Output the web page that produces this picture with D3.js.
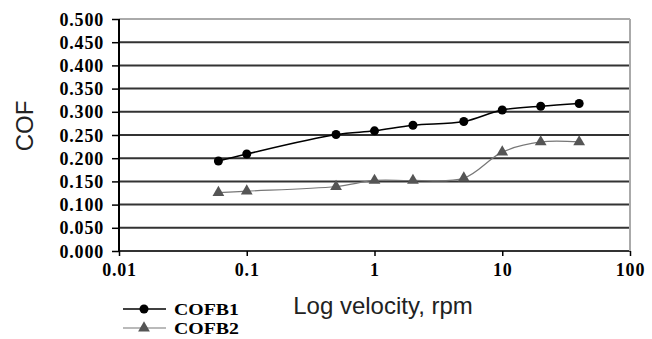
<!DOCTYPE html>
<html>
<head>
<meta charset="utf-8">
<script src="https://cdn.jsdelivr.net/npm/d3@7"></script>
<style>
  body { margin: 0; background: #fff; }
  svg { display: block; }
  .tick-lbl { font-family: "Liberation Serif", "Times New Roman", serif; font-weight: bold; font-size: 18px; letter-spacing: 0.8px; fill: #000; }
  .leg-lbl { font-family: "Liberation Serif", "Times New Roman", serif; font-weight: bold; font-size: 17.5px; fill: #000; }
  .title { font-family: "Liberation Sans", Arial, sans-serif; font-size: 24px; fill: #222; }
</style>
</head>
<body>
<svg id="chart" width="652" height="339"></svg>
<script>
// velocities (rpm)
const velocity = [0.06, 0.1, 0.5, 1, 2, 5, 10, 20, 40];
const cofb1 = [0.194, 0.209, 0.251, 0.259, 0.271, 0.279, 0.304, 0.312, 0.318];
const cofb2 = [0.126, 0.129, 0.139, 0.152, 0.152, 0.157, 0.213, 0.235, 0.235];
const yTicks = [0, 0.05, 0.1, 0.15, 0.2, 0.25, 0.3, 0.35, 0.4, 0.45, 0.5];
const xTicks = [0.01, 0.1, 1, 10, 100];
const seriesNames = ["COFB1", "COFB2"];

const svg = d3.select('#chart');
const x = d3.scaleLog().domain([0.01, 100]).range([119, 630]);
const y = d3.scaleLinear().domain([0, 0.5]).range([251, 19]);

// horizontal gridlines
svg.append('g')
  .selectAll('line')
  .data(yTicks)
  .join('line')
    .attr('x1', x(0.01)).attr('x2', x(100))
    .attr('y1', d => y(d)).attr('y2', d => y(d))
    .attr('stroke', d => d === 0.5 ? '#aaa' : '#333')
    .attr('stroke-width', 2);

// right border
svg.append('line')
  .attr('x1', x(100)).attr('x2', x(100))
  .attr('y1', y(0.5)).attr('y2', y(0))
  .attr('stroke', '#aaa').attr('stroke-width', 2);

// y axis
const yAxis = svg.append('g')
  .attr('transform', `translate(${x(0.01)},0)`)
  .call(d3.axisLeft(y).tickValues(yTicks).tickSize(7).tickFormat(d3.format('.3f')));
yAxis.select('.domain').attr('stroke', '#000').attr('stroke-width', 2).attr('d', `M0,${y(0.5)}V${y(0)}`);
yAxis.selectAll('.tick line').attr('stroke', '#000').attr('stroke-width', 1.5);
yAxis.selectAll('.tick text').attr('class', 'tick-lbl').attr('x', -15).attr('dy', '0.34em');

// x axis
const xAxis = svg.append('g')
  .attr('transform', `translate(0,${y(0)})`)
  .call(d3.axisBottom(x).tickValues(xTicks).tickSize(5).tickFormat(d => d < 1 ? String(d) : d3.format('d')(d)));
xAxis.select('.domain').remove();
xAxis.selectAll('.tick line').attr('stroke', '#000').attr('stroke-width', 1.5);
xAxis.selectAll('.tick text').attr('class', 'tick-lbl').attr('y', 25).attr('dy', 0);

// axis titles
svg.append('text').attr('class', 'title')
  .attr('transform', 'translate(33,126) rotate(-90)')
  .attr('text-anchor', 'middle')
  .text('COF');
svg.append('text').attr('class', 'title')
  .attr('x', 383).attr('y', 314)
  .attr('text-anchor', 'middle')
  .text('Log velocity, rpm');

const line = d3.line()
  .x(d => x(d[0]))
  .y(d => y(d[1]))
  .curve(d3.curveCatmullRom.alpha(0.5));

const s1 = velocity.map((v, i) => [v, cofb1[i]]);
const s2 = velocity.map((v, i) => [v, cofb2[i]]);

svg.append('path').datum(s2)
  .attr('d', line).attr('fill', 'none')
  .attr('stroke', '#777').attr('stroke-width', 1.2);
svg.append('path').datum(s1)
  .attr('d', line).attr('fill', 'none')
  .attr('stroke', '#000').attr('stroke-width', 1.5);

const tri = d3.symbol().type(d3.symbolTriangle).size(60);
svg.append('g').selectAll('path')
  .data(s2).join('path')
    .attr('d', tri)
    .attr('transform', d => `translate(${x(d[0])},${y(d[1])})`)
    .attr('fill', '#555');
svg.append('g').selectAll('circle')
  .data(s1).join('circle')
    .attr('cx', d => x(d[0])).attr('cy', d => y(d[1]))
    .attr('r', 4.5).attr('fill', '#000');

// legend
const leg = svg.append('g');
const legY = [309, 328];
leg.append('line').attr('x1', 123).attr('x2', 166).attr('y1', legY[0]).attr('y2', legY[0])
  .attr('stroke', '#000').attr('stroke-width', 1.5);
leg.append('circle').attr('cx', 144).attr('cy', legY[0]).attr('r', 4.5).attr('fill', '#000');
leg.append('line').attr('x1', 123).attr('x2', 166).attr('y1', legY[1]).attr('y2', legY[1])
  .attr('stroke', '#777').attr('stroke-width', 1.2);
leg.append('path').attr('d', tri).attr('transform', `translate(144,${legY[1]})`).attr('fill', '#555');
leg.selectAll('text')
  .data(seriesNames).join('text')
    .attr('class', 'leg-lbl')
    .attr('x', 174).attr('y', (d, i) => legY[i]).attr('dy', '0.34em')
    .attr('textLength', 65).attr('lengthAdjust', 'spacingAndGlyphs')
    .text(d => d);
</script>
</body>
</html>
